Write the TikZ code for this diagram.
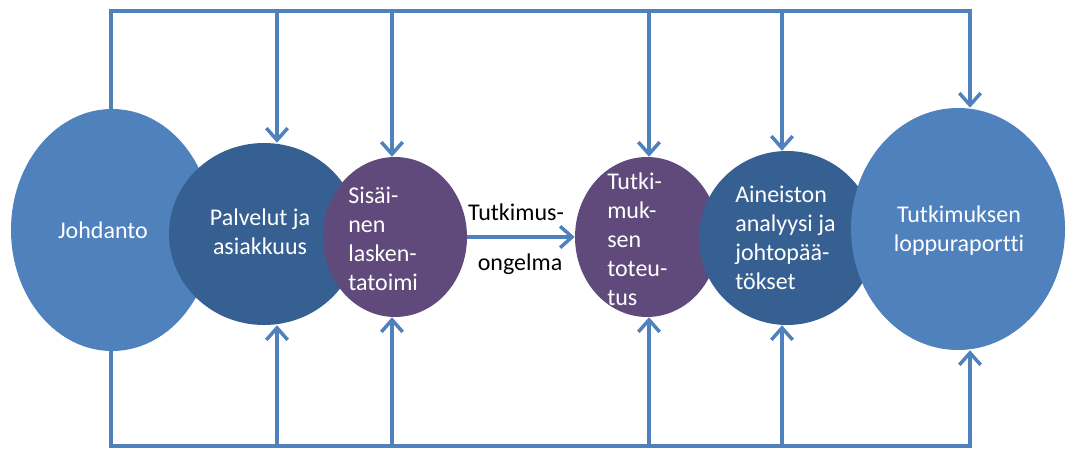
\documentclass[tikz,border=0pt]{standalone}
\usepackage{fontspec}
\setmainfont{Carlito}[Ligatures=NoCommon]
\usetikzlibrary{shapes.geometric,arrows.meta}
\definecolor{lineblue}{HTML}{4F81BD}
\definecolor{lightblue}{HTML}{4F81BD}
\definecolor{darkblue}{HTML}{376092}
\definecolor{vpurple}{HTML}{604A7B}
\begin{document}
\begin{tikzpicture}[x=0.75pt,y=-0.75pt,
  blob/.style={ellipse, inner sep=0pt, draw=none},
  txt/.style={text=white, inner sep=0pt, font=\fontsize{18pt}{21.75pt}\selectfont},
  lbl/.style={text=black, inner sep=0pt, font=\fontsize{18pt}{21.75pt}\selectfont},
  conn/.style={draw=lineblue, line width=2.6pt},
  arr/.style={conn, -{Straight Barb[length=9pt,width=16pt]}}]
\useasboundingbox (0,0) rectangle (1069,449);
\fill[white] (0,0) rectangle (1069,449);

% circles, left to right (each on top of the previous)
\node[blob, fill=lightblue, minimum width=151.5pt, minimum height=181.5pt] (jo) at (112,230) {};
\node[blob, fill=darkblue, minimum width=142.5pt, minimum height=136.5pt] (pal) at (264,234) {};
\node[blob, fill=vpurple, minimum width=108pt, minimum height=120pt] (sis) at (395,237) {};
\node[blob, fill=vpurple, minimum width=108pt, minimum height=120pt] (tot) at (647,237) {};
\node[blob, fill=darkblue, minimum width=132pt, minimum height=130.5pt] (ain) at (787,238) {};
\node[blob, fill=lightblue, minimum width=160.5pt, minimum height=181.5pt] (lop) at (958,229) {};

% texts
\node[txt] (tjo) at (103,230) {Johdanto};
\node[txt, align=center] (tpal) at (260,232) {Palvelut ja\\asiakkuus};
\node[txt, align=left, anchor=west] (tsis) at (348,239) {Sisäi-\\nen\\lasken-\\tatoimi};
\node[txt, align=left, anchor=west] (ttot) at (607,239) {Tutki-\\muk-\\sen\\toteu-\\tus};
\node[txt, align=left, anchor=west] (tain) at (735,238) {Aineiston\\analyysi ja\\johtopää-\\tökset};
\node[txt, align=center] (tlop) at (959,231) {Tutkimuksen\\loppuraportti};

% middle arrow and its labels
\draw[arr] (sis.east) -- (tot.west);
\node[lbl] (l1) at (516,212) {Tutkimus-};
\node[lbl] (l2) at (520,264) {ongelma};

% frame coordinates
\coordinate (tl) at (111,11);
\coordinate (tr) at (970,11);
\coordinate (bl) at (111,446);
\coordinate (br) at (970,446);
\coordinate (t1) at (277,11);
\coordinate (t2) at (392,11);
\coordinate (t3) at (649,11);
\coordinate (t4) at (782,11);
\coordinate (b1) at (277,446);
\coordinate (b2) at (392,446);
\coordinate (b3) at (649,446);
\coordinate (b4) at (782,446);

% top feedback lines
\draw[arr, line join=miter] (jo.north -| tl) -- (tl) -- (tr) -- (lop.north -| tr);
\draw[arr] (t1) -- (t1 |- pal.north);
\draw[arr] (t2) -- (t2 |- sis.north);
\draw[arr] (t3) -- (t3 |- tot.north);
\draw[arr] (t4) -- (t4 |- ain.north);

% bottom feedback lines
\draw[arr, line join=miter] (jo.south -| bl) -- (bl) -- (br) -- (lop.south -| br);
\draw[arr] (b1) -- (b1 |- pal.south);
\draw[arr] (b2) -- (b2 |- sis.south);
\draw[arr] (b3) -- (b3 |- tot.south);
\draw[arr] (b4) -- (b4 |- ain.south);
\end{tikzpicture}
\end{document}
